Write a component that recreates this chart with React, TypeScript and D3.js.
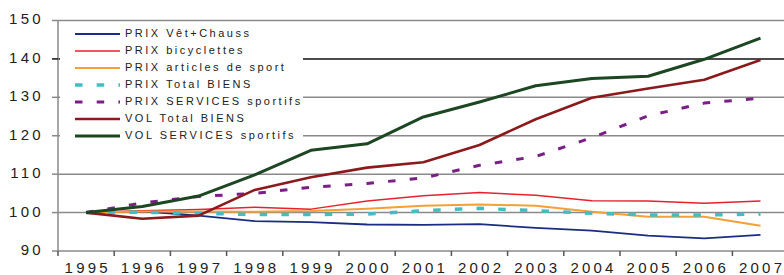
import React from "react";
import * as d3 from "d3";

const years = ["1995","1996","1997","1998","1999","2000","2001","2002","2003","2004","2005","2006","2007"];
const yTicks = [90, 100, 110, 120, 130, 140, 150];

const prixVet = [100, 100.3, 99.2, 97.8, 97.5, 96.9, 96.8, 97.0, 96.0, 95.3, 94.0, 93.3, 94.2];
const prixBicy = [100, 100.5, 100.8, 101.4, 100.9, 103.0, 104.4, 105.2, 104.5, 103.1, 103.0, 102.4, 103.0];
const prixSport = [100, 100.3, 100.3, 100.2, 100.4, 101.0, 101.8, 102.1, 101.8, 100.2, 98.9, 98.9, 96.6];
const prixTotalBiens = [100, 100.1, 99.8, 99.5, 99.5, 99.6, 100.5, 101.1, 100.5, 99.8, 99.4, 99.4, 99.6];
const prixServices = [100, 102.5, 104.2, 105.0, 106.6, 107.6, 109.0, 112.3, 114.6, 119.5, 125.2, 128.5, 129.8];
const volTotalBiens = [100, 98.4, 99.2, 105.9, 109.2, 111.7, 113.1, 117.6, 124.3, 129.9, 132.3, 134.6, 139.7];
const volServices = [100, 101.6, 104.3, 109.8, 116.2, 117.9, 124.9, 128.8, 133.0, 134.9, 135.5, 139.9, 145.4];

const seriesNames = [
  "PRIX  Vêt+Chauss",
  "PRIX bicyclettes",
  "PRIX articles de sport",
  "PRIX Total BIENS",
  "PRIX SERVICES sportifs",
  "VOL Total BIENS",
  "VOL SERVICES sportifs",
];
const seriesValues = [prixVet, prixBicy, prixSport, prixTotalBiens, prixServices, volTotalBiens, volServices];
const seriesStyles = [
  { color: "#1B2C82", width: 1.8, dash: "" },
  { color: "#E8212E", width: 1.5, dash: "" },
  { color: "#F5A034", width: 2, dash: "" },
  { color: "#45BCC0", width: 3.5, dash: "7.5,14.2" },
  { color: "#7A1F86", width: 3, dash: "7.5,14.2" },
  { color: "#8A1A1C", width: 2.6, dash: "" },
  { color: "#1D4622", width: 3, dash: "" },
];

export default function App() {
  const left = 58;
  const step = 56.2;
  const x = d3.scaleBand<string>().domain(years).range([left, left + step * years.length]).padding(0);
  const y = d3.scaleLinear().domain([90, 150]).range([251, 20.5]);
  const cx = (yr: string) => (x(yr) as number) + x.bandwidth() / 2;
  const line = d3
    .line<number>()
    .x((_, i) => cx(years[i]))
    .y((v) => y(v))
    .curve(d3.curveLinear);

  const font = "'Liberation Sans', Arial, sans-serif";
  const legendY = (i: number) => 34 + i * 17;

  return (
    <svg
      width={784}
      height={275}
      style={{ position: "absolute", left: 0, top: 0, background: "#fff" }}
      fontFamily={font}
    >
      <rect x={0} y={0} width={784} height={275} fill="#fff" />
      {/* gridlines */}
      {yTicks.filter((t) => t > 90).map((t) => (
        <line
          key={"g" + t}
          x1={left}
          x2={784}
          y1={y(t)}
          y2={y(t)}
          stroke={t === 140 ? "#111" : "#8a8a8a"}
          strokeWidth={1.5}
        />
      ))}
      {/* axes */}
      <line x1={left} x2={left} y1={y(150)} y2={y(90)} stroke="#8a8a8a" strokeWidth={1.5} />
      <line x1={left} x2={784} y1={y(90)} y2={y(90)} stroke="#8a8a8a" strokeWidth={1.5} />
      {yTicks.map((t) => (
        <g key={"yt" + t}>
          <line x1={52} x2={left} y1={y(t)} y2={y(t)} stroke={t === 140 ? "#111" : "#8a8a8a"} strokeWidth={1.5} />
          <text
            x={44}
            y={y(t)}
            textAnchor="end"
            dominantBaseline="middle"
            fontSize={15}
            letterSpacing={3.3}
            fill="#222"
          >
            {t}
          </text>
        </g>
      ))}
      {years.map((yr) => (
        <line
          key={"xt" + yr}
          x1={x(yr) as number}
          x2={x(yr) as number}
          y1={y(90)}
          y2={y(90) + 5}
          stroke="#555"
          strokeWidth={1.5}
        />
      ))}
      {years.map((yr) => (
        <text
          key={"xl" + yr}
          x={cx(yr) + 1.6}
          y={269}
          textAnchor="middle"
          dominantBaseline="middle"
          fontSize={15}
          letterSpacing={3.2}
          fill="#222"
        >
          {yr}
        </text>
      ))}
      {/* series */}
      {seriesValues.map((vals, i) => (
        <path
          key={"s" + i}
          d={line(vals) || ""}
          fill="none"
          stroke={seriesStyles[i].color}
          strokeWidth={seriesStyles[i].width}
          strokeDasharray={seriesStyles[i].dash || undefined}
          strokeLinejoin="round"
        />
      ))}
      {/* legend */}
      <rect x={60} y={25} width={243} height={118} fill="#fff" />
      {seriesNames.map((name, i) => (
        <g key={"l" + i}>
          <line
            x1={75}
            x2={120}
            y1={legendY(i)}
            y2={legendY(i)}
            stroke={seriesStyles[i].color}
            strokeWidth={seriesStyles[i].width}
            strokeDasharray={seriesStyles[i].dash || undefined}
          />
          <text
            x={125}
            y={legendY(i)}
            dominantBaseline="middle"
            fontSize={11}
            letterSpacing={2.5}
            fill="#222"
          >
            {name}
          </text>
        </g>
      ))}
    </svg>
  );
}
